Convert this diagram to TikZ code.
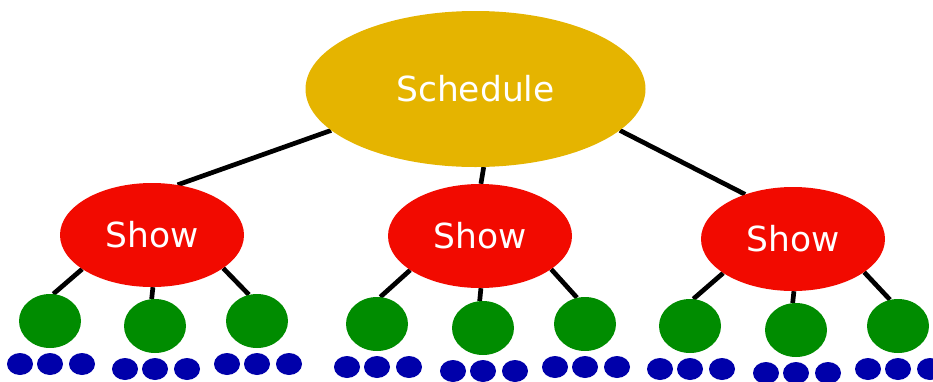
\documentclass[tikz,border=0pt]{standalone}
\usepackage{fontspec}
\setmainfont{DejaVu Sans}
\usetikzlibrary{shapes.geometric,backgrounds}
\definecolor{gold}{RGB}{229,180,0}
\definecolor{showred}{RGB}{242,10,0}
\definecolor{leafgreen}{RGB}{0,140,0}
\definecolor{beadblue}{RGB}{0,0,170}
\begin{document}
\begin{tikzpicture}[x=1pt,y=-1pt,
  blob/.style={ellipse,inner sep=0pt,draw=none},
  topnode/.style={blob,fill=gold,minimum width=340pt,minimum height=156pt,text=white,font=\fontsize{34.5}{40}\selectfont},
  shownode/.style={blob,fill=showred,minimum width=184pt,minimum height=104pt,text=white,font=\fontsize{34.5}{40}\selectfont},
  leaf/.style={blob,fill=leafgreen,minimum width=62pt,minimum height=54pt},
  bead/.style={blob,fill=beadblue,minimum width=26pt,minimum height=22pt},
  link/.style={line width=4.7pt,black}]
\useasboundingbox (0,0) rectangle (933,381);
\node[topnode] (sched) at (475.5,89) {Schedule};
\node[shownode] (s1) at (152,235) {Show};
\node[shownode] (s2) at (480,236) {Show};
\node[shownode] (s3) at (793,239) {Show};
\foreach \n/\x/\y in {11/50/321,12/155/326,13/257/321,21/377/324,22/483/328,23/585/324,31/690/326,32/796/330,33/898/326}{
  \node[leaf] (l\n) at (\x,\y) {};
  \node[bead] (b\n a) at (\x-30,\y+43) {};
  \node[bead] (b\n b) at (\x,\y+43) {};
  \node[bead] (b\n c) at (\x+32,\y+43) {};
}
\begin{scope}[on background layer]
\draw[link] (sched.196) -- (s1.63);
\draw[link] (sched.276) -- (s2.89);
\draw[link] (sched.344) -- (s3.137);
\foreach \i in {1,2,3}{
  \draw[link] (s\i.206) -- (l\i1.83);
  \draw[link] (s\i.271) -- (l\i2.97);
  \draw[link] (s\i.335) -- (l\i3.107);
}
\end{scope}
\end{tikzpicture}
\end{document}
